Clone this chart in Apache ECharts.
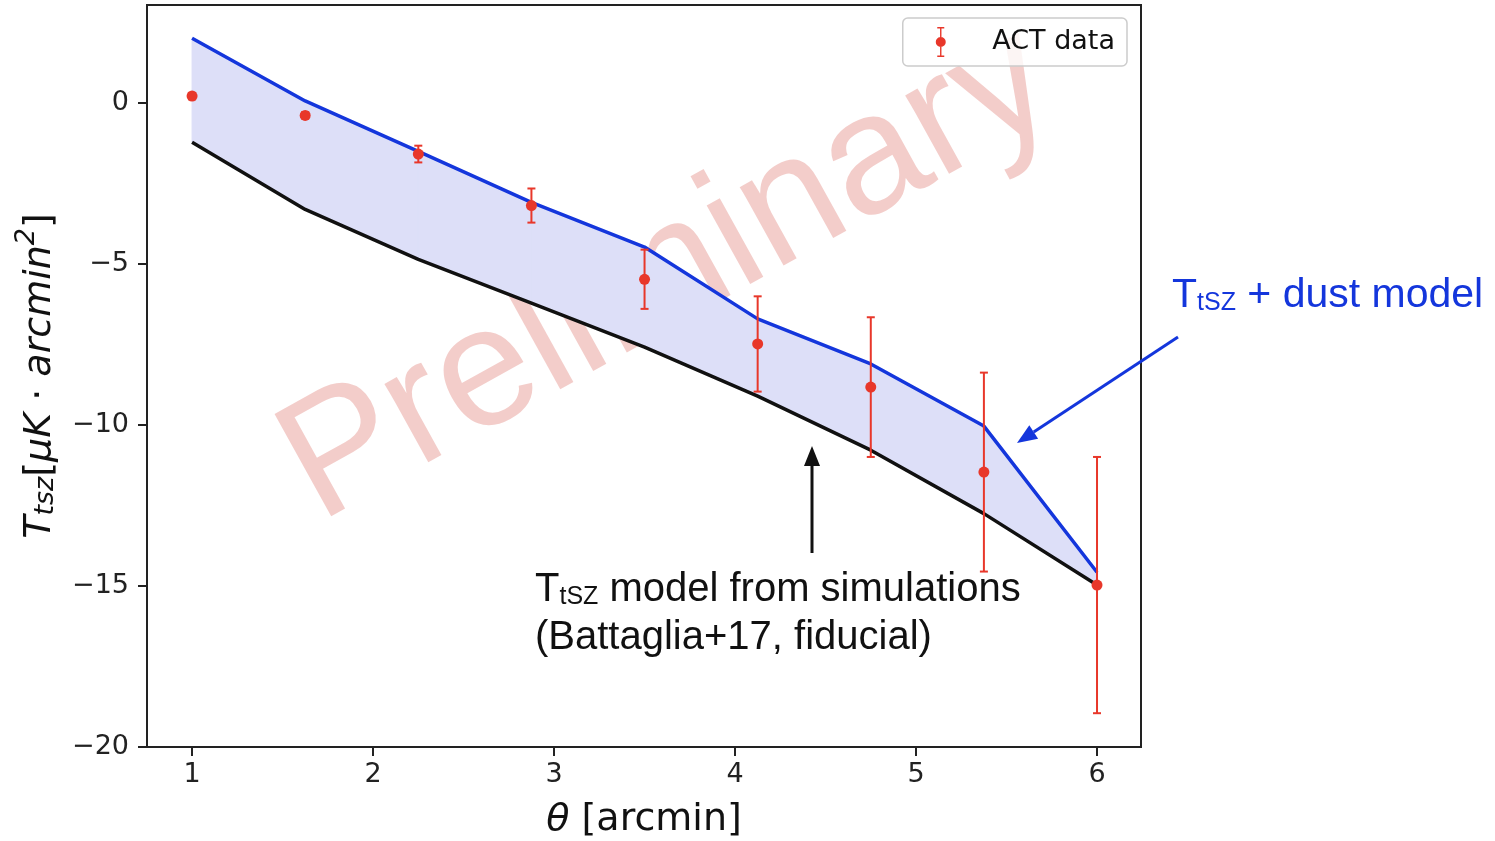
<!DOCTYPE html>
<html>
<head>
<meta charset="utf-8">
<script src="https://cdn.jsdelivr.net/npm/echarts@6/dist/echarts.min.js"></script>
<style>
  html, body { margin: 0; padding: 0; background: #fff; }
  #main { width: 1495px; height: 841px; }
</style>
</head>
<body>
<div id="main"></div>
<script>
// data
var theta = [1, 1.625, 2.25, 2.875, 3.5, 4.125, 4.75, 5.375, 6];
var actData = [0.22, -0.38, -1.58, -3.18, -5.47, -7.48, -8.82, -11.46, -14.97];
var actErr = [0.1, 0.1, 0.26, 0.53, 0.92, 1.48, 2.17, 3.09, 3.98];
var dustModel = [2.02, 0.07, -1.5, -3.08, -4.47, -6.7, -8.1, -10.03, -14.57];
var simModel = [-1.21, -3.3, -4.85, -6.21, -7.58, -9.1, -10.78, -12.75, -14.97];
var yTicks = [-20, -15, -10, -5, 0];
var xTicks = [1, 2, 3, 4, 5, 6];

var RED = '#e8372a';
var BLUE = '#1436dc';
var FILL = '#dddff8';

var chart = echarts.init(document.getElementById('main'));

var minus = function (v) {
    return v < 0 ? '\u2212' + (-v) : String(v);
};

// arrow made of a line and a triangle head (pixel coords)
function arrow(x1, y1, x2, y2, color) {
    var ang = Math.atan2(y2 - y1, x2 - x1);
    var len = 20, half = 8;
    var bx = x2 - len * Math.cos(ang), by = y2 - len * Math.sin(ang);
    var nx = -Math.sin(ang) * half, ny = Math.cos(ang) * half;
    return {
        type: 'group',
        z: 50,
        children: [
            {
                type: 'line',
                shape: { x1: x1, y1: y1, x2: bx, y2: by },
                style: { stroke: color, lineWidth: 3 }
            },
            {
                type: 'polygon',
                shape: { points: [[x2, y2], [bx + nx, by + ny], [bx - nx, by - ny]] },
                style: { fill: color }
            }
        ]
    };
}

// one quad per segment between the two model curves
var bandSegs = [];
for (var i = 0; i < theta.length - 1; i++) {
    bandSegs.push([theta[i], theta[i + 1], simModel[i], simModel[i + 1], dustModel[i], dustModel[i + 1]]);
}

var option = {
    animation: false,
    grid: {
        left: 147, right: 354, top: 5, bottom: 94,
        outerBoundsMode: 'none', containLabel: false,
        show: true, borderColor: '#222', borderWidth: 2, backgroundColor: 'transparent'
    },
    legend: {
        data: [{ name: 'ACT data', icon: 'path://M1.5,0H8.5V1.6H5.7V28.4H8.5V30H1.5V28.4H4.3V1.6H1.5Z M5,10A5,5 0 1 1 5,20A5,5 0 1 1 5,10Z' }],
        top: 18, right: 368,
        itemWidth: 11, itemHeight: 30,
        padding: [9, 12, 9, 33],
        borderColor: '#cccccc', borderWidth: 1.5, borderRadius: 5,
        backgroundColor: 'rgba(255,255,255,0.8)',
        textStyle: { fontFamily: 'DejaVu Sans', fontSize: 27, color: '#111', padding: [0, 0, 0, 41] }
    },
    xAxis: {
        type: 'value', min: 0.751, max: 6.243,
        name: '{i|θ}{r| [arcmin]}',
        nameLocation: 'middle', nameGap: 54,
        nameTextStyle: {
            rich: {
                i: { fontFamily: 'DejaVu Sans', fontStyle: 'italic', fontSize: 38, color: '#111' },
                r: { fontFamily: 'DejaVu Sans', fontSize: 38, color: '#111' }
            }
        },
        axisLine: { show: true, onZero: false, lineStyle: { color: '#222', width: 2 } },
        axisTick: { show: true, inside: false, length: 9, customValues: xTicks, lineStyle: { color: '#222', width: 2 } },
        axisLabel: { customValues: xTicks, margin: 14, fontFamily: 'DejaVu Sans', fontSize: 27, color: '#222', formatter: minus },
        splitLine: { show: false }
    },
    yAxis: {
        type: 'value', min: -20, max: 3.05, interval: 5,
        name: '{i|T}{sub|tsz}{r|[}{i|μK}{r| · }{i|arcmin}{sup|2}{r|]}',
        nameLocation: 'middle', nameGap: 88, nameRotate: 90,
        nameTextStyle: {
            rich: {
                i: { fontFamily: 'DejaVu Sans', fontStyle: 'italic', fontSize: 38, color: '#111', lineHeight: 46, verticalAlign: 'bottom' },
                r: { fontFamily: 'DejaVu Sans', fontSize: 38, color: '#111', lineHeight: 46, verticalAlign: 'bottom' },
                sub: { fontFamily: 'DejaVu Sans', fontStyle: 'italic', fontSize: 27, color: '#111', lineHeight: 27, verticalAlign: 'bottom' },
                sup: { fontFamily: 'DejaVu Sans', fontStyle: 'italic', fontSize: 27, color: '#111', lineHeight: 27, verticalAlign: 'top' }
            }
        },
        axisLine: { show: true, onZero: false, lineStyle: { color: '#222', width: 2 } },
        axisTick: { show: true, inside: false, length: 9, customValues: yTicks, lineStyle: { color: '#222', width: 2 } },
        axisLabel: { customValues: yTicks, margin: 18, fontFamily: 'DejaVu Sans', fontSize: 27, color: '#222', formatter: minus },
        splitLine: { show: false }
    },
    graphic: [
        {
            type: 'text', z: 1,
            x: 668, y: 276, rotation: 29 * Math.PI / 180,
            style: {
                text: 'Preliminary', x: 0, y: 0,
                fontFamily: 'Liberation Sans', fontSize: 170,
                fill: 'rgba(210,60,50,0.26)',
                textAlign: 'center', textVerticalAlign: 'middle'
            }
        },
        {
            type: 'text', z: 50, x: 1172, y: 272,
            style: {
                text: '{m|T}{s|tSZ}{m| + dust model}',
                rich: {
                    m: { fontFamily: 'Liberation Sans', fontSize: 41, fill: BLUE, lineHeight: 44, verticalAlign: 'bottom' },
                    s: { fontFamily: 'Liberation Sans', fontSize: 25, fill: BLUE, lineHeight: 22, verticalAlign: 'bottom' }
                }
            }
        },
        {
            type: 'text', z: 50, x: 535, y: 562,
            style: {
                text: '{m|T}{s|tSZ}{m| model from simulations}\n{m|(Battaglia+17, fiducial)}',
                rich: {
                    m: { fontFamily: 'Liberation Sans', fontSize: 40, fill: '#111', lineHeight: 48, verticalAlign: 'bottom' },
                    s: { fontFamily: 'Liberation Sans', fontSize: 25, fill: '#111', lineHeight: 24, verticalAlign: 'bottom' }
                }
            }
        },
        arrow(1178, 337, 1017, 443, BLUE),
        arrow(812, 553, 812, 446, '#111')
    ],
    series: [
        {
            name: 'band', type: 'custom', z: 2,
            data: bandSegs,
            encode: { x: [0, 1], y: [2, 3, 4, 5] },
            renderItem: function (params, api) {
                var pts = [
                    api.coord([api.value(0), api.value(2)]),
                    api.coord([api.value(1), api.value(3)]),
                    api.coord([api.value(1), api.value(5)]),
                    api.coord([api.value(0), api.value(4)])
                ];
                return {
                    type: 'polygon',
                    shape: { points: pts },
                    style: { fill: FILL, stroke: FILL, lineWidth: 1 }
                };
            }
        },
        {
            name: 'TtSZ + dust model', type: 'line',
            data: theta.map(function (t, i) { return [t, dustModel[i]]; }),
            symbol: 'none', lineStyle: { color: BLUE, width: 3.5 }, z: 3
        },
        {
            name: 'TtSZ model', type: 'line',
            data: theta.map(function (t, i) { return [t, simModel[i]]; }),
            symbol: 'none', lineStyle: { color: '#111', width: 3.5 }, z: 4
        },
        {
            name: 'ACT err', type: 'custom', z: 5,
            data: theta.map(function (t, i) { return [t, actData[i] - actErr[i], actData[i] + actErr[i]]; }),
            encode: { x: 0, y: [1, 2] },
            renderItem: function (params, api) {
                var lo = api.coord([api.value(0), api.value(1)]);
                var hi = api.coord([api.value(0), api.value(2)]);
                var st = { stroke: RED, lineWidth: 2 };
                return {
                    type: 'group',
                    children: [
                        { type: 'line', shape: { x1: lo[0], y1: lo[1], x2: hi[0], y2: hi[1] }, style: st },
                        { type: 'line', shape: { x1: lo[0] - 4, y1: lo[1], x2: lo[0] + 4, y2: lo[1] }, style: st },
                        { type: 'line', shape: { x1: hi[0] - 4, y1: hi[1], x2: hi[0] + 4, y2: hi[1] }, style: st }
                    ]
                };
            }
        },
        {
            name: 'ACT data', type: 'scatter', z: 6,
            data: theta.map(function (t, i) { return [t, actData[i]]; }),
            symbol: 'circle', symbolSize: 11,
            itemStyle: { color: RED, opacity: 1 }
        }
    ]
};

chart.setOption(option);
</script>
</body>
</html>
